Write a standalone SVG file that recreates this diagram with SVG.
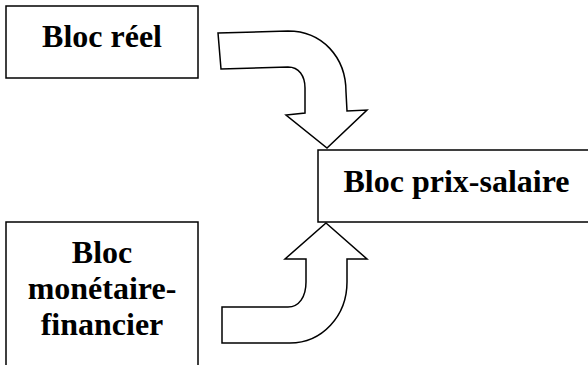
<svg xmlns="http://www.w3.org/2000/svg" width="588" height="365" viewBox="0 0 588 365">
<style>
.box{fill:#fff;stroke:#000;stroke-width:1.5}
.lbl{font-family:"Liberation Serif","Times New Roman",serif;font-weight:bold;font-size:32px;fill:#000;text-anchor:middle}
.arr{fill:#fff;stroke:#000;stroke-width:1.5;stroke-linejoin:miter}
</style>
<rect width="588" height="365" fill="#fff"/>
<g id="bloc-reel">
<rect class="box" x="6" y="6" width="192" height="72"/>
<text class="lbl" x="102" y="47">Bloc réel</text>
</g>
<g id="bloc-prix-salaire">
<rect class="box" x="318" y="150" width="277" height="72"/>
<text class="lbl" x="456.5" y="192">Bloc prix-salaire</text>
</g>
<g id="bloc-monetaire-financier">
<rect class="box" x="6" y="222" width="192" height="150"/>
<text class="lbl" x="102" y="263">Bloc</text>
<text class="lbl" x="102" y="299">monétaire-</text>
<text class="lbl" x="102" y="335">financier</text>
</g>
<g id="connectors">
<path class="arr" d="M218,33 L288,31 C322,31 346,57 346,92 L347,111 L367,110 L327,148 L286,115 L305,113 L305,88 C305,76 299,67 288,67 L221,69 Z"/>
<path class="arr" d="M326,223 L367,259 L347,259 L347,282 C347,316 322,343 290,343 L222,343 L222,307 L288,307 C299,307 306,297 306,282 L306,259 L285,259 Z"/>
</g>
</svg>
